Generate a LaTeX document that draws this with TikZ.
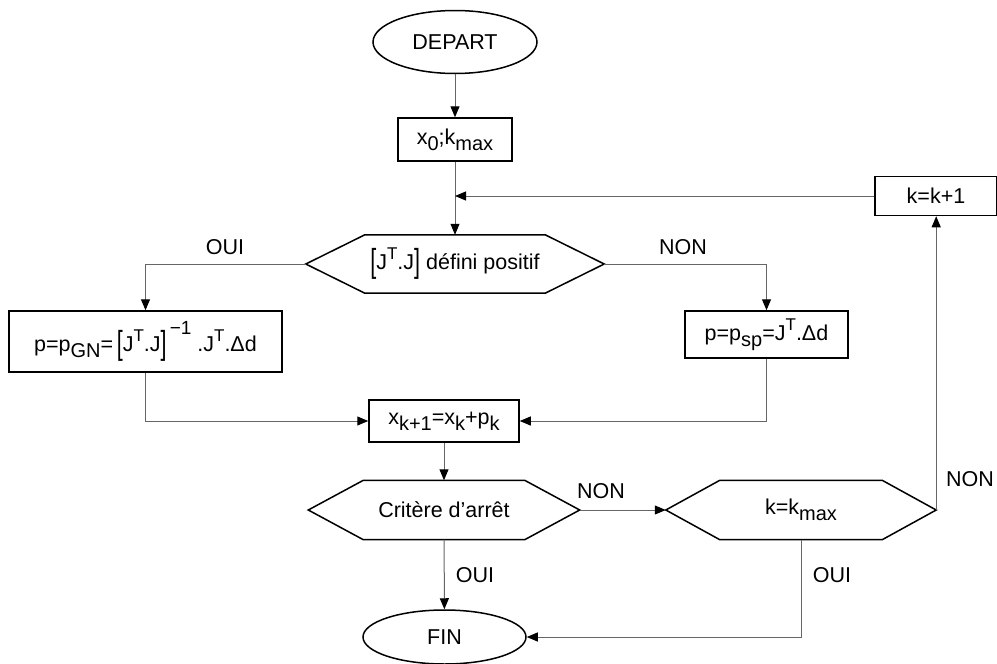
\documentclass[tikz,border=0pt]{standalone}
\usepackage{graphicx}
\usepackage{fontspec}
\setmainfont{Liberation Sans}
\usetikzlibrary{arrows.meta,shapes.geometric}
\newcommand\mysub[1]{\raisebox{-6pt}{\fontsize{20}{20}\selectfont #1}}
\newcommand\mysup[1]{\raisebox{9.5pt}{\fontsize{17}{17}\selectfont #1}}
\newcommand\mysupb[1]{\raisebox{17pt}{\fontsize{19}{19}\selectfont #1}}
\newcommand\lbr{\raisebox{-3.5pt}{\scalebox{1}[1.55]{[}}}
\newcommand\rbr{\raisebox{-3.5pt}{\scalebox{1}[1.55]{]}}}
\newcommand\hexdraw[2]{%
  \draw[hexline] ([xshift=-#2]#1.west) -- (#1.north west) -- (#1.north east) -- ([xshift=#2]#1.east) -- (#1.south east) -- (#1.south west) -- cycle;
  \coordinate (#1L) at ([xshift=-#2]#1.west);
  \coordinate (#1R) at ([xshift=#2]#1.east);}
\begin{document}
\begin{tikzpicture}[x=1pt,y=-1pt,font=\fontsize{21.5}{25}\selectfont,
  box/.style={draw,line width=1.5pt,rectangle,inner sep=0pt},
  oval/.style={draw,line width=1.5pt,ellipse,inner sep=0pt},
  hexin/.style={inner sep=0pt},
  hexline/.style={line width=1.5pt,line join=miter},
  conn/.style={line width=1pt,draw=black!60},
  arr/.style={conn,-{Triangle[length=11pt,width=9pt,color=black]}},
  lab/.style={inner sep=0pt}]
\useasboundingbox (0,0) rectangle (997,664);

\node[oval,minimum width=164pt,minimum height=63pt] (dep) at (455,42) {DEPART};
\node[box,minimum width=114pt,minimum height=43pt] (x0) at (455,139.5) {x\mysub{0};k\mysub{max}};
\node[box,minimum width=122pt,minimum height=39pt] (kk1) at (936,196) {k=k+1};
\coordinate (j1) at (455,196);

\node[hexin,minimum width=180pt,minimum height=58pt] (q1) at (455,264) {\lbr J\mysup{T}.J\rbr\ défini positif};
\hexdraw{q1}{59pt}

\node[box,minimum width=273pt,minimum height=61pt] (pgn) at (145.5,341.5)
  {p=p\mysub{GN}=\,\lbr J\mysup{T}.J\rbr\mysupb{\,−1}\ .J\mysup{T}.Δd};
\node[box,minimum width=163pt,minimum height=47pt] (psp) at (766.5,334.5) {p=p\mysub{sp}=J\mysup{T}.Δd};

\node[box,minimum width=150pt,minimum height=42pt] (xk1) at (444,421) {x\mysub{k+1}=x\mysub{k}+p\mysub{k}};

\node[hexin,minimum width=161pt,minimum height=59pt] (crit) at (444,510) {Critère d’arrêt};
\hexdraw{crit}{55pt}
\node[hexin,minimum width=162pt,minimum height=59pt] (kmax) at (801,510) {k=k\mysub{max}};
\hexdraw{kmax}{54pt}

\node[oval,minimum width=163pt,minimum height=54pt] (fin) at (444.5,637) {FIN};

% labels
\node[lab] (l1) at (225,247) {OUI};
\node[lab] (l2) at (683,247) {NON};
\node[lab] (l3) at (601,491) {NON};
\node[lab] (l4) at (475,575) {OUI};
\node[lab] (l5) at (832,575) {OUI};
\node[lab] (l6) at (970,479) {NON};

% connectors
\draw[arr] (dep) -- (x0);
\draw[arr] (x0) -- (q1);
\draw[arr] (kk1.west) -- (j1);
\draw[arr] (q1L) -| (pgn.north);
\draw[arr] (q1R) -| (psp.north);
\draw[arr] (pgn.south) |- (xk1.west);
\draw[arr] (psp.south) |- (xk1.east);
\draw[arr] (xk1) -- (crit);
\draw[arr] (crit) -- (fin);
\draw[arr] (critR) -- (kmaxL);
\draw[arr] (kmaxR) -- (kmaxR |- kk1.south);
\draw[arr] (kmax.south) |- (fin.east);
\end{tikzpicture}
\end{document}
